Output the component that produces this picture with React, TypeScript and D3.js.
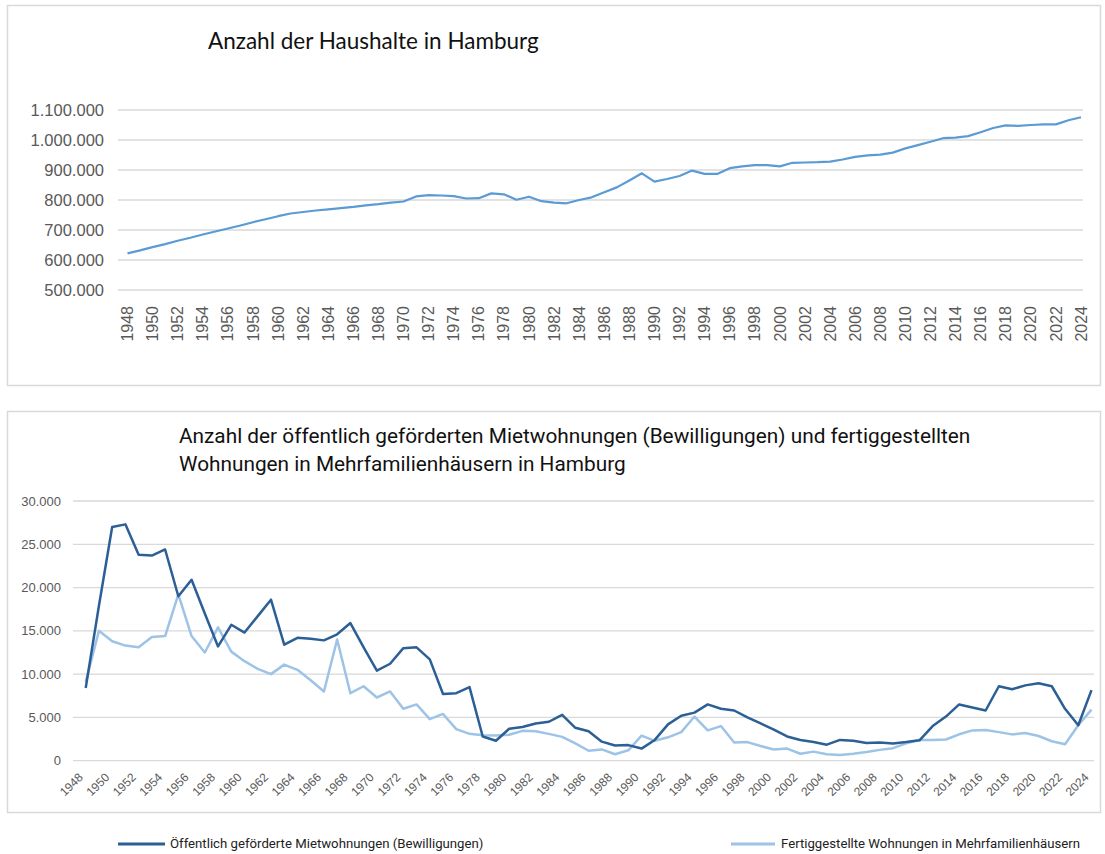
import React from 'react'
import * as d3 from 'd3'

// categories
const years = d3.range(1948, 2025)
const labelYears = years.filter(y => y % 2 === 0)

// Anzahl der Haushalte (in 1.000)
const households = [
  622, 632, 643, 653, 664, 674, 685, 695, 705, 715,
  726, 736, 746, 755, 760, 765, 769, 773, 777, 782,
  786, 791, 795, 812, 816, 815, 813, 805, 806, 822,
  819, 801, 811, 796, 791, 789, 800, 809, 826, 842,
  865, 889, 861, 870, 880, 898, 887, 887, 906, 912,
  916, 916, 912, 924, 925, 926, 928, 935, 944, 949,
  951, 958, 972, 983, 994, 1006, 1008, 1013, 1026, 1040,
  1049, 1047, 1050, 1052, 1052, 1066, 1076,
]

// Öffentlich geförderte Mietwohnungen (Bewilligungen)
const approvals = [
  8400, 17900, 27000, 27300, 23800, 23700, 24400, 19000, 20900, 17000,
  13200, 15700, 14800, 16700, 18600, 13400, 14200, 14100, 13900, 14600,
  15900, 13100, 10400, 11200, 13000, 13100, 11700, 7700, 7800, 8500,
  2800, 2300, 3700, 3900, 4300, 4500, 5300, 3800, 3400, 2200,
  1750, 1800, 1400, 2400, 4200, 5200, 5550, 6500, 6000, 5800,
  5000, 4300, 3600, 2800, 2400, 2150, 1850, 2400, 2300, 2050,
  2100, 2000, 2150, 2350, 4000, 5100, 6500, 6150, 5800, 8600,
  8250, 8700, 8950, 8600, 6000, 4100, 8150,
]

// Fertiggestellte Wohnungen in Mehrfamilienhäusern
const completions = [
  9100, 15000, 13800, 13300, 13100, 14300, 14400, 19200, 14400, 12500,
  15400, 12600, 11500, 10600, 10000, 11100, 10500, 9300, 8000, 14000,
  7800, 8600, 7300, 8000, 6000, 6500, 4800, 5400, 3650, 3100,
  2950, 2900, 3000, 3450, 3400, 3100, 2750, 2000, 1150, 1300,
  750, 1200, 2900, 2300, 2700, 3300, 5100, 3500, 4000, 2100,
  2150, 1700, 1300, 1400, 800, 1050, 750, 650, 800, 1000,
  1250, 1450, 2000, 2400, 2400, 2450, 3050, 3500, 3550, 3300,
  3040, 3200, 2850, 2250, 1900, 4100, 5900,
]

const householdTicks = [500, 600, 700, 800, 900, 1000, 1100]
const housingTicks = [0, 5000, 10000, 15000, 20000, 25000, 30000]

const de = d3.formatLocale({ decimal: ',', thousands: '.', grouping: [3], currency: ['', ' €'] })
const fmt = de.format(',')

const W = 1105
const H = 854
const GRID = '#d9d9d9'
const TICK_TEXT = '#595959'
const DARK = '#2b5f95'
const LIGHT = '#9dc3e6'

function HouseholdChart() {
  const x = d3.scaleLinear().domain([1948, 2024]).range([127.5, 1081])
  const y = d3.scaleLinear().domain([500, 1100]).range([290, 110])
  const line = d3.line<number>().x((d, i) => x(years[i])).y(d => y(d))

  return (
    <g>
      <rect x={7.5} y={5.5} width={1093} height={380} fill="#fff" stroke={GRID} strokeWidth={1.5} />
      <text x={208} y={49} fontFamily="Lato, sans-serif" fontSize={22.5} fill="#111">
        Anzahl der Haushalte in Hamburg
      </text>
      {householdTicks.map(t => (
        <g key={t}>
          <line x1={118} x2={1083} y1={y(t)} y2={y(t)} stroke={GRID} strokeWidth={1.3} />
          <text x={104} y={y(t)} dy="0.35em" textAnchor="end" fontFamily="Liberation Sans, Arial, sans-serif" fontSize={16.5} fill={TICK_TEXT}>
            {fmt(t * 1000)}
          </text>
        </g>
      ))}
      {labelYears.map(yr => (
        <text key={yr} transform={`translate(${x(yr)},306) rotate(-90)`} dy="0.35em" textAnchor="end"
          fontFamily="Liberation Sans, Arial, sans-serif" fontSize={16} fill={TICK_TEXT}>
          {yr}
        </text>
      ))}
      <path d={line(households) || ''} fill="none" stroke="#5b9bd5" strokeWidth={2.2} strokeLinejoin="round" />
    </g>
  )
}

function HousingChart() {
  const x = d3.scaleLinear().domain([1948, 2024]).range([85.7, 1091.5])
  const y = d3.scaleLinear().domain([0, 30000]).range([760.7, 501])
  const line = d3.line<number>().x((d, i) => x(years[i])).y(d => y(d))

  return (
    <g>
      <rect x={7.5} y={411.5} width={1093} height={401} fill="#fff" stroke={GRID} strokeWidth={1.5} />
      <text fontFamily="Roboto, sans-serif" fontSize={20.8} fill="#111">
        <tspan x={179} y={443}>Anzahl der öffentlich geförderten Mietwohnungen (Bewilligungen) und fertiggestellten</tspan>
        <tspan x={179} y={471}>Wohnungen in Mehrfamilienhäusern in Hamburg</tspan>
      </text>
      {housingTicks.map(t => (
        <g key={t}>
          <line x1={73} x2={1094} y1={y(t)} y2={y(t)} stroke={GRID} strokeWidth={1.3} />
          <text x={61} y={y(t)} dy="0.35em" textAnchor="end" fontFamily="Liberation Sans, Arial, sans-serif" fontSize={13} fill={TICK_TEXT}>
            {fmt(t)}
          </text>
        </g>
      ))}
      {labelYears.map(yr => (
        <text key={yr} transform={`translate(${x(yr) - 5},775) rotate(-45)`} dy="0.35em" textAnchor="end"
          fontFamily="Liberation Sans, Arial, sans-serif" fontSize={12} fill={TICK_TEXT}>
          {yr}
        </text>
      ))}
      <path d={line(completions) || ''} fill="none" stroke={LIGHT} strokeWidth={2.5} strokeLinejoin="round" />
      <path d={line(approvals) || ''} fill="none" stroke={DARK} strokeWidth={2.5} strokeLinejoin="round" />

      {/* legend */}
      <line x1={118} x2={165} y1={844} y2={844} stroke={DARK} strokeWidth={3} />
      <text x={170} y={848} fontFamily="Roboto, sans-serif" fontSize={13.2} fill="#222">
        Öffentlich geförderte Mietwohnungen (Bewilligungen)
      </text>
      <line x1={731} x2={775} y1={844} y2={844} stroke={LIGHT} strokeWidth={3} />
      <text x={781} y={848} fontFamily="Roboto, sans-serif" fontSize={13.2} fill="#222">
        Fertiggestellte Wohnungen in Mehrfamilienhäusern
      </text>
    </g>
  )
}

export default function App() {
  return (
    <svg width={W} height={H} style={{ position: 'absolute', left: 0, top: 0, background: '#fff' }}>
      <HouseholdChart />
      <HousingChart />
    </svg>
  )
}
